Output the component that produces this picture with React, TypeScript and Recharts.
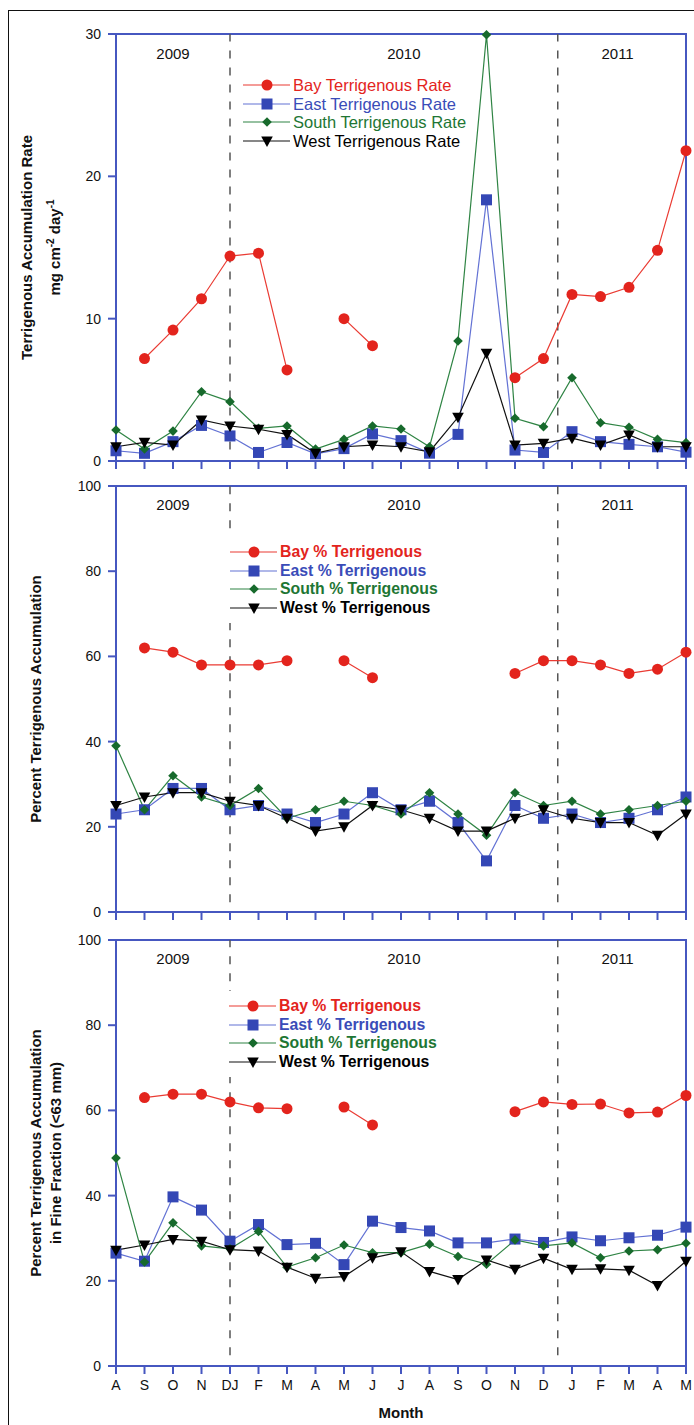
import React from 'react';
import { LineChart, Line, XAxis, YAxis, ReferenceLine, ReferenceArea, ReferenceDot, Legend } from 'recharts';

const months = ['A', 'S', 'O', 'N', 'DJ', 'F', 'M', 'A', 'M', 'J', 'J', 'A', 'S', 'O', 'N', 'D', 'J', 'F', 'M', 'A', 'M'];
const monthIdx = months.map((_, i) => i);

// Panel 1: accumulation rate (mg cm-2 day-1)
const bayRate = [null, 7.2, 9.2, 11.4, 14.4, 14.6, 6.4, null, 10.0, 8.1, null, null, null, null, 5.85, 7.2, 11.7, 11.55, 12.2, 14.8, 21.8];
const eastRate = [0.72, 0.54, 1.36, 2.5, 1.76, 0.6, 1.3, 0.5, 0.87, 1.9, 1.43, 0.55, 1.87, 18.35, 0.77, 0.6, 2.06, 1.36, 1.17, 1.0, 0.62];
const southRate = [2.18, 0.84, 2.1, 4.87, 4.17, 2.3, 2.46, 0.84, 1.52, 2.46, 2.25, 1.0, 8.43, 29.95, 3.0, 2.41, 5.85, 2.69, 2.37, 1.52, 1.29];
const westRate = [1.0, 1.31, 1.12, 2.88, 2.46, 2.23, 1.87, 0.54, 1.0, 1.12, 1.0, 0.65, 3.07, 7.57, 1.12, 1.24, 1.6, 1.12, 1.83, 1.0, 1.0];

// Panel 2: percent terrigenous accumulation
const bayPct = [null, 62, 61, 58, 58, 58, 59, null, 59, 55, null, null, null, null, 56, 59, 59, 58, 56, 57, 61];
const eastPct = [23, 24, 29, 29, 24, 25, 23, 21, 23, 28, 24, 26, 21, 12, 25, 22, 23, 21, 22, 24, 27];
const southPct = [39, 24, 32, 27, 25, 29, 22, 24, 26, 25, 23, 28, 23, 18, 28, 25, 26, 23, 24, 25, 26];
const westPct = [25, 27, 28, 28, 26, 25, 22, 19, 20, 25, 24, 22, 19, 19, 22, 24, 22, 21, 21, 18, 23];

// Panel 3: percent terrigenous in fine fraction
const bayFine = [null, 63, 63.8, 63.8, 62, 60.6, 60.4, null, 60.8, 56.6, null, null, null, null, 59.7, 62.0, 61.4, 61.5, 59.4, 59.6, 63.5];
const eastFine = [26.5, 24.6, 39.7, 36.6, 29.3, 33.2, 28.5, 28.8, 23.8, 34.0, 32.5, 31.7, 28.9, 28.9, 29.8, 29.0, 30.3, 29.4, 30.1, 30.7, 32.6];
const southFine = [48.8, 24.4, 33.6, 28.2, 27.5, 31.6, 23.2, 25.4, 28.4, 26.6, 26.6, 28.6, 25.7, 23.9, 29.6, 28.2, 28.9, 25.4, 27.0, 27.3, 28.8];
const westFine = [27.2, 28.4, 29.7, 29.3, 27.3, 27.0, 23.2, 20.6, 21.0, 25.4, 26.8, 22.2, 20.3, 24.9, 22.7, 25.3, 22.7, 22.8, 22.5, 18.9, 24.6];

const rateLabels = ['Bay Terrigenous Rate', 'East Terrigenous Rate', 'South Terrigenous Rate', 'West Terrigenous Rate'];
const pctLabels = ['Bay % Terrigenous', 'East % Terrigenous', 'South % Terrigenous', 'West % Terrigenous'];
const yearLabels = ['2009', '2010', '2011'];
const yearPos = [2, 10.1, 17.6];
const rateTicks = [0, 10, 20, 30];
const pctTicks = [0, 20, 40, 60, 80, 100];

const FONT = '"Liberation Sans", Arial, Helvetica, sans-serif';
const AXIS = '#4657c0';

type Shape = 'circle' | 'square' | 'diamond' | 'triangle';
interface SeriesDef { key: string; line: string; fill: string; text: string; shape: Shape; }
const seriesDefs: SeriesDef[] = [
  { key: 'bay', line: '#ea3b33', fill: '#e3241d', text: '#e3241d', shape: 'circle' },
  { key: 'east', line: '#6372d4', fill: '#3447b5', text: '#3a4cb8', shape: 'square' },
  { key: 'south', line: '#2f8444', fill: '#176a2c', text: '#1e7634', shape: 'diamond' },
  { key: 'west', line: '#111111', fill: '#000000', text: '#000000', shape: 'triangle' },
];

const buildRows = (b: (number | null)[], e: number[], s: number[], w: number[]) =>
  months.map((m, i) => ({ i, month: m, bay: b[i], east: e[i], south: s[i], west: w[i] }));

const rateRows = buildRows(bayRate, eastRate, southRate, westRate);
const pctRows = buildRows(bayPct, eastPct, southPct, westPct);
const fineRows = buildRows(bayFine, eastFine, southFine, westFine);

function Marker({ shape, cx, cy, fill }: { shape: Shape; cx: number; cy: number; fill: string }) {
  if (shape === 'circle') return <circle cx={cx} cy={cy} r={5.5} fill={fill} />;
  if (shape === 'square') return <rect x={cx - 5.5} y={cy - 5.5} width={11} height={11} fill={fill} />;
  if (shape === 'diamond')
    return <polygon points={`${cx},${cy - 4.8} ${cx + 4.8},${cy} ${cx},${cy + 4.8} ${cx - 4.8},${cy}`} fill={fill} />;
  return <polygon points={`${cx - 5.8},${cy - 4.5} ${cx + 5.8},${cy - 4.5} ${cx},${cy + 6}`} fill={fill} />;
}

const makeDot = (shape: Shape, fill: string) => (props: any) => {
  const { cx, cy, value, index } = props;
  if (cx == null || cy == null || value == null || Number.isNaN(cy)) return <g key={`d-${index}`} />;
  return <Marker key={`d-${index}`} shape={shape} cx={cx} cy={cy} fill={fill} />;
};

function LegendBox({ labels, bold, fontSize }: { labels: string[]; bold: boolean; fontSize: number }) {
  return (
    <div style={{ background: '#fff', padding: '6px 4px', fontFamily: FONT, fontSize, fontWeight: bold ? 700 : 400 }}>
      {seriesDefs.map((s, k) => (
        <div key={k} style={{ display: 'flex', alignItems: 'center', height: 18.5, whiteSpace: 'nowrap' }}>
          <svg width={47} height={18} style={{ display: 'block' }}>
            <line x1={0} x2={47} y1={9} y2={9} stroke={s.line} strokeWidth={1.2} />
            <Marker shape={s.shape} cx={24} cy={9} fill={s.fill} />
          </svg>
          <span style={{ marginLeft: 3, color: s.text, lineHeight: '18px' }}>{labels[k]}</span>
        </div>
      ))}
    </div>
  );
}

interface PanelProps {
  top: number;
  height: number;
  marginTop: number;
  marginBottom: number;
  xh: number;
  rows: any[];
  yMax: number;
  yTicks: number[];
  labels: string[];
  bold: boolean;
  legendFont: number;
  legendTop: number;
  legendLeft: number;
  titles: React.ReactNode[];
  titleXs: number[];
  yearY: number;
  dashLo: number;
  showMonths: boolean;
}

function Panel(p: PanelProps) {
  const plotH = p.height - p.marginTop - p.marginBottom - p.xh;
  const fallbackCy = p.marginTop + plotH / 2;
  const titleContent = (props: any) => {
    const vb = props && props.viewBox;
    const cy = vb && typeof vb.y === 'number' && typeof vb.height === 'number' ? vb.y + vb.height / 2 : fallbackCy;
    return (
      <g>
        {p.titles.map((t, k) => (
          <text
            key={k}
            x={p.titleXs[k]}
            y={cy}
            transform={`rotate(-90 ${p.titleXs[k]} ${cy})`}
            textAnchor="middle"
            fontFamily={FONT}
            fontSize={15}
            fontWeight={700}
            fill="#111"
          >
            {t}
          </text>
        ))}
      </g>
    );
  };
  return (
    <div style={{ position: 'absolute', left: 0, top: p.top, width: 694, height: p.height }}>
      <LineChart
        width={694}
        height={p.height}
        data={p.rows}
        margin={{ top: p.marginTop, right: 8, bottom: p.marginBottom, left: 0 }}
      >
        <XAxis
          type="number"
          dataKey="i"
          domain={[0, 20]}
          ticks={monthIdx}
          interval={0}
          allowDecimals={false}
          tickFormatter={(v: number) => (p.showMonths ? months[v] ?? '' : '')}
          height={p.xh}
          tickSize={8}
          tickMargin={6}
          axisLine={{ stroke: AXIS, strokeWidth: 2 }}
          tickLine={{ stroke: AXIS, strokeWidth: 2 }}
          tick={{ fill: '#111', fontSize: 14, fontFamily: FONT }}
          label={
            p.showMonths
              ? { value: 'Month', position: 'insideBottom', offset: 0, fill: '#111', fontSize: 15, fontWeight: 700, fontFamily: FONT }
              : undefined
          }
        />
        <YAxis
          type="number"
          domain={[0, p.yMax]}
          ticks={p.yTicks}
          interval={0}
          width={116}
          tickSize={8}
          tickMargin={7}
          axisLine={{ stroke: AXIS, strokeWidth: 2 }}
          tickLine={{ stroke: AXIS, strokeWidth: 2 }}
          tick={{ fill: '#111', fontSize: 14, fontFamily: FONT }}
          label={titleContent}
        />
        <ReferenceArea x1={0} x2={20} y1={0} y2={p.yMax} fill="none" fillOpacity={0} stroke={AXIS} strokeWidth={2} ifOverflow="visible" />
        <ReferenceLine
          segment={[{ x: 4, y: p.dashLo }, { x: 4, y: p.yMax }]}
          stroke="#555"
          strokeWidth={1.5}
          strokeDasharray="8 9"
        />
        <ReferenceLine
          segment={[{ x: 15.5, y: p.dashLo }, { x: 15.5, y: p.yMax }]}
          stroke="#555"
          strokeWidth={1.5}
          strokeDasharray="8 9"
        />
        {yearLabels.map((yl, k) => (
          <ReferenceDot
            key={yl}
            x={yearPos[k]}
            y={p.yearY}
            r={0}
            fill="none"
            stroke="none"
            label={{ value: yl, position: 'center', fill: '#111', fontSize: 15, fontFamily: FONT }}
          />
        ))}
        {seriesDefs.map((s) => (
          <Line
            key={s.key}
            type="linear"
            dataKey={s.key}
            stroke={s.line}
            strokeWidth={1.2}
            dot={makeDot(s.shape, s.fill)}
            activeDot={false}
            isAnimationActive={false}
            connectNulls={false}
          />
        ))}
        <Legend
          layout="vertical"
          align="center"
          verticalAlign="middle"
          wrapperStyle={{ top: p.legendTop, left: p.legendLeft, width: 'auto', height: 'auto' }}
          content={() => <LegendBox labels={p.labels} bold={p.bold} fontSize={p.legendFont} />}
        />
      </LineChart>
    </div>
  );
}

const rateTitle2 = (
  <>
    mg cm<tspan dy={-6} fontSize={10}>-2</tspan>
    <tspan dy={6}> day</tspan>
    <tspan dy={-6} fontSize={10}>-1</tspan>
  </>
);

export default function App() {
  return (
    <div style={{ position: 'absolute', left: 0, top: 0, width: 694, height: 1425, background: '#fff', overflow: 'hidden' }}>
      <div
        style={{
          position: 'absolute',
          left: 8,
          top: 10,
          width: 700,
          height: 1430,
          borderTop: '1.5px solid #111',
          borderLeft: '1.5px solid #111',
        }}
      />
      <Panel
        top={0}
        height={480}
        marginTop={34}
        marginBottom={0}
        xh={19}
        rows={rateRows}
        yMax={30}
        yTicks={rateTicks}
        labels={rateLabels}
        bold={false}
        legendFont={16.5}
        legendTop={70}
        legendLeft={239}
        titles={['Terrigenous Accumulation Rate', rateTitle2]}
        titleXs={[32, 60]}
        yearY={28.6}
        dashLo={0.8}
        showMonths={false}
      />
      <Panel
        top={470}
        height={461}
        marginTop={16}
        marginBottom={0}
        xh={19}
        rows={pctRows}
        yMax={100}
        yTicks={pctTicks}
        labels={pctLabels}
        bold={true}
        legendFont={15.8}
        legendTop={67}
        legendLeft={226}
        titles={['Percent Terrigenous Accumulation']}
        titleXs={[41]}
        yearY={95.5}
        dashLo={2.3}
        showMonths={false}
      />
      <Panel
        top={900}
        height={525}
        marginTop={40}
        marginBottom={7}
        xh={52}
        rows={fineRows}
        yMax={100}
        yTicks={pctTicks}
        labels={pctLabels}
        bold={true}
        legendFont={15.8}
        legendTop={91}
        legendLeft={225}
        titles={['Percent Terrigenous Accumulation', 'in Fine Fraction (<63 mm)']}
        titleXs={[41, 61]}
        yearY={95.5}
        dashLo={2.5}
        showMonths={true}
      />
    </div>
  );
}
